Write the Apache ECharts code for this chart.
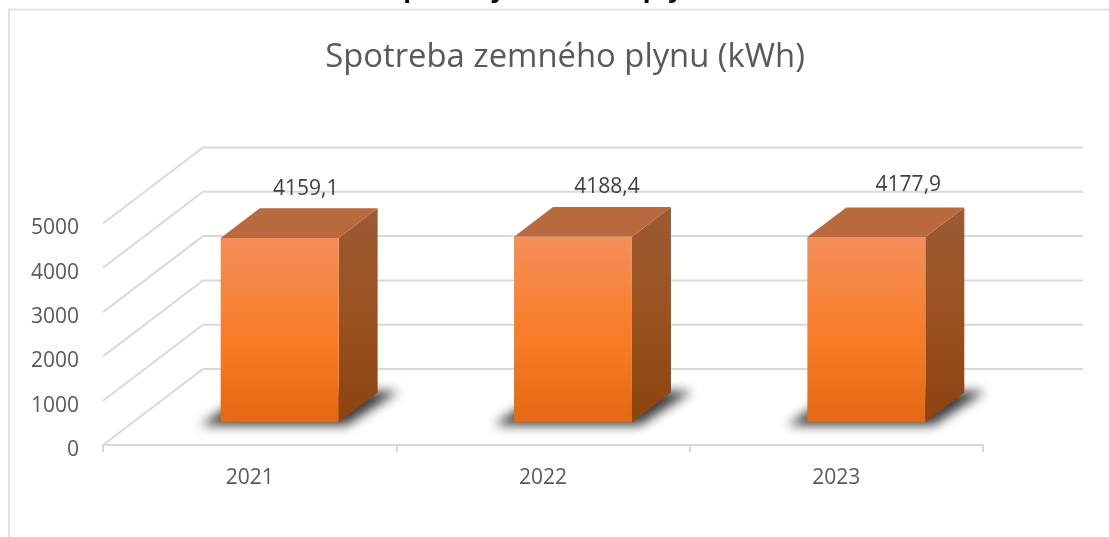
<!DOCTYPE html>
<html>
<head>
<meta charset="utf-8">
<title>Spotreba zemného plynu</title>
<style>
  html, body { margin: 0; padding: 0; background: #fff; }
  #chart { width: 1109px; height: 537px; }
</style>
<script src="https://cdn.jsdelivr.net/npm/echarts@6/dist/echarts.min.js"></script>
</head>
<body>
<div id="chart"></div>
<script>
const years = ['2021', '2022', '2023']
const consumption = [4159.1, 4188.4, 4177.9]
const yTicks = [0, 1000, 2000, 3000, 4000, 5000]
const heading = 'Spotreby zemného plynu'
const chartTitle = 'Spotreba zemného plynu (kWh)'

const FONT = '"Open Sans", sans-serif'
const GRID_COLOR = '#d9d9d9'
// fake 3D: how far the back wall sits from the front plane
const DEPTH_X = 100
const DEPTH_Y = -76
const BAR_OFFSET = 0.3
const BAR_DEPTH = 0.39
// the floor shadow is drawn off screen so only its blurred shadow shows
const SHADOW_SHIFT = 3000
// the value labels drift a little from bar to bar
const LABEL_NUDGE = [[-8, 1], [0, 0], [8, -2]]

const chart = echarts.init(document.getElementById('chart'))

function renderWall(params, api) {
  const cs = params.coordSys
  const y = api.coord([0, api.value(1)])[1]
  const x0 = cs.x
  const x1 = x0 + DEPTH_X
  const lineStyle = { stroke: GRID_COLOR, lineWidth: 2, fill: null }
  return {
    type: 'group',
    children: [
      { type: 'polyline', shape: { points: [[x0, y], [x1, y + DEPTH_Y], [x1 + cs.width, y + DEPTH_Y]] }, style: lineStyle }
    ]
  }
}

function renderBar(params, api) {
  const band = api.size([1, 0])[0]
  const w = band * 0.402
  const base = api.coord([api.value(0), 0])
  const top = api.coord([api.value(0), api.value(1)])
  const xl = base[0] - w / 2 + DEPTH_X * BAR_OFFSET
  const xr = xl + w
  const yb = base[1] + DEPTH_Y * BAR_OFFSET
  const yt = yb - (base[1] - top[1])
  const dx = DEPTH_X * BAR_DEPTH
  const dy = DEPTH_Y * BAR_DEPTH
  const grad = (stops) => new echarts.graphic.LinearGradient(0, 0, 0, 1, stops)
  const s = SHADOW_SHIFT
  const nudge = LABEL_NUDGE[params.dataIndex]
  return {
    type: 'group',
    children: [
      {
        type: 'polygon',
        shape: { points: [[xl - 20 - s, yb + 3], [xr + 8 - s, yb + 3], [xr + 60 - s, yb - 31], [xl + 30 - s, yb - 31]] },
        style: { fill: '#000', shadowBlur: 11, shadowOffsetX: s, shadowColor: 'rgba(50,50,50,0.95)' }
      },
      {
        type: 'polygon',
        shape: { points: [[xr, yt], [xr + dx, yt + dy], [xr + dx, yb + dy], [xr, yb]] },
        style: { fill: grad([{ offset: 0, color: '#9C5B35' }, { offset: 0.5, color: '#9A5220' }, { offset: 1, color: '#8C430F' }]) }
      },
      {
        type: 'polygon',
        shape: { points: [[xl, yt], [xr, yt], [xr + dx, yt + dy], [xl + dx, yt + dy]] },
        style: { fill: '#B8693E' }
      },
      {
        type: 'rect',
        shape: { x: xl, y: yt, width: w, height: yb - yt },
        style: { fill: grad([{ offset: 0, color: '#F48E5A' }, { offset: 0.55, color: '#F97C26' }, { offset: 1, color: '#E36813' }]) }
      },
      {
        type: 'text',
        style: {
          x: xl + w / 2 + 34 + nudge[0],
          y: yt - 50 + nudge[1],
          text: String(api.value(1)).replace('.', ','),
          fill: '#404040',
          font: '21px ' + FONT,
          align: 'center',
          verticalAlign: 'middle'
        }
      }
    ]
  }
}

chart.setOption({
  animation: false,
  backgroundColor: '#fff',
  title: {
    text: chartTitle,
    left: 560,
    top: 36,
    textAlign: 'center',
    textStyle: { fontFamily: FONT, fontWeight: 'normal', fontSize: 32.8, color: '#595959' }
  },
  graphic: [
    {
      type: 'polyline',
      shape: { points: [[9, 537], [9, 9.5], [1109, 9.5]] },
      style: { stroke: GRID_COLOR, lineWidth: 1.5, fill: null }
    },
    {
      type: 'text',
      x: 551,
      y: -25,
      style: { text: heading, fill: '#000', font: 'bold 28px "Liberation Sans", sans-serif', align: 'center' }
    }
  ],
  grid: { left: 103, right: 126, top: 223.5, bottom: 92 },
  xAxis: {
    type: 'category',
    data: years,
    axisLine: { lineStyle: { color: GRID_COLOR, width: 2 } },
    axisTick: { show: true, alignWithLabel: false, length: 7, lineStyle: { color: GRID_COLOR, width: 2 } },
    axisLabel: { margin: 23, color: '#595959', fontFamily: FONT, fontSize: 21 }
  },
  yAxis: {
    type: 'value',
    min: yTicks[0],
    max: yTicks[yTicks.length - 1],
    interval: 1000,
    axisLine: { show: false },
    axisTick: { show: false },
    splitLine: { show: false },
    axisLabel: { margin: 24, color: '#595959', fontFamily: FONT, fontSize: 21, verticalAlign: 'top', lineHeight: 10, formatter: (v) => String(v) }
  },
  series: [
    {
      type: 'custom',
      renderItem: renderWall,
      data: yTicks.map((v) => [0, v]),
      silent: true,
      z: 1
    },
    {
      type: 'custom',
      renderItem: renderBar,
      data: consumption.map((v, i) => [i, v]),
      z: 2
    }
  ]
})

window.addEventListener('resize', () => chart.resize(), { passive: true })
</script>
</body>
</html>
